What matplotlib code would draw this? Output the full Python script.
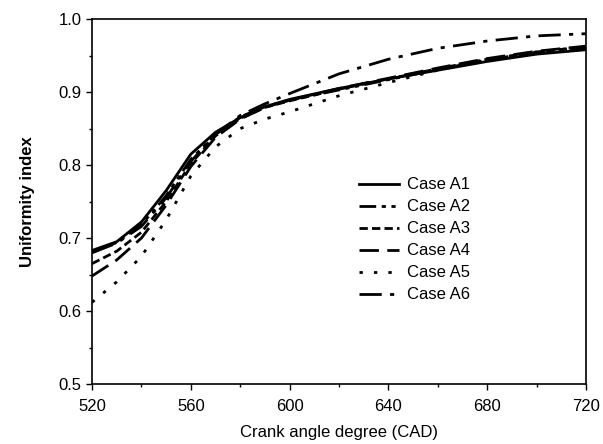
import matplotlib
matplotlib.use("Agg")
import matplotlib.pyplot as plt
from matplotlib.ticker import MultipleLocator

plt.rcParams['font.family'] = ['Liberation Sans', 'DejaVu Sans']

cad = [520, 530, 540, 550, 560, 570, 580, 590, 600, 620, 640, 660, 680, 700, 720]
a1 = [0.683, 0.695, 0.722, 0.765, 0.815, 0.845, 0.865, 0.880, 0.890, 0.905, 0.918, 0.930, 0.942, 0.952, 0.958]
a2 = [0.680, 0.694, 0.718, 0.758, 0.808, 0.842, 0.866, 0.880, 0.889, 0.903, 0.917, 0.931, 0.944, 0.954, 0.961]
a3 = [0.665, 0.682, 0.708, 0.750, 0.802, 0.840, 0.864, 0.879, 0.888, 0.904, 0.918, 0.932, 0.945, 0.955, 0.962]
a4 = [0.648, 0.670, 0.700, 0.745, 0.798, 0.838, 0.863, 0.879, 0.889, 0.905, 0.919, 0.933, 0.946, 0.956, 0.963]
a5 = [0.612, 0.640, 0.675, 0.725, 0.785, 0.825, 0.850, 0.863, 0.873, 0.895, 0.913, 0.930, 0.944, 0.955, 0.962]
a6 = [0.680, 0.693, 0.716, 0.755, 0.805, 0.842, 0.868, 0.884, 0.898, 0.925, 0.945, 0.960, 0.970, 0.977, 0.980]

labels = ['Case A1', 'Case A2', 'Case A3', 'Case A4', 'Case A5', 'Case A6']
series = [a1, a2, a3, a4, a5, a6]
styles = ['-', (0, (6, 2, 1.5, 2, 1.5, 2)), (0, (3, 1.5)), (0, (7, 3)), (0, (1.2, 4)), (0, (8, 3, 1.5, 3))]

fig = plt.figure(figsize=(6.03, 4.44), dpi=100)
ax = fig.add_axes([0.1526, 0.135, 0.8194, 0.822])
for y, lab, ls in zip(series, labels, styles):
    ax.plot(cad, y, color='black', linestyle=ls, linewidth=2, label=lab)

ax.set_xlim(520, 720)
ax.set_ylim(0.5, 1.0)
ax.xaxis.set_major_locator(MultipleLocator(40))
ax.xaxis.set_minor_locator(MultipleLocator(20))
ax.yaxis.set_major_locator(MultipleLocator(0.1))
ax.yaxis.set_minor_locator(MultipleLocator(0.05))
ax.tick_params(which='major', direction='out', length=4, width=1, labelsize=12)
ax.tick_params(axis='x', which='major', pad=7)
ax.tick_params(which='minor', direction='out', length=2.5, width=1)
for s in ax.spines.values():
    s.set_linewidth(1.2)
ax.set_xlabel('Crank angle degree (CAD)', fontsize=12, labelpad=8)
ax.set_ylabel('Uniformity index', fontsize=12, fontweight='bold', labelpad=17)
ax.legend(loc='center left', bbox_to_anchor=(0.51, 0.395), frameon=False, fontsize=12,
          handlelength=2.4, labelspacing=0.42, handletextpad=0.5)
fig.savefig('out.png', dpi=100)
